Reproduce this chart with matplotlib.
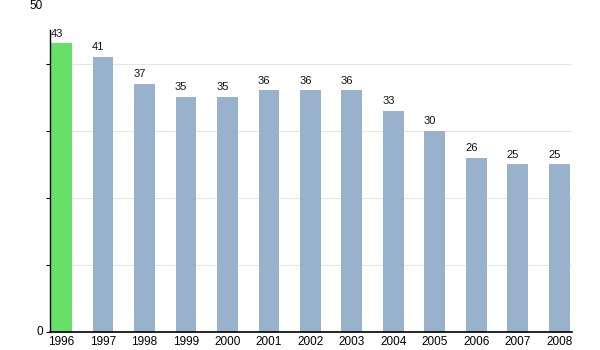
import matplotlib.pyplot as plt
import matplotlib.ticker as tick

plt.rcParams['font.family'] = ['Liberation Sans', 'DejaVu Sans']

YEARS = ['1996', '1997', '1998', '1999', '2000', '2001', '2002',
         '2003', '2004', '2005', '2006', '2007', '2008']
VALUES = [43, 41, 37, 35, 35, 36, 36, 36, 33, 30, 26, 25, 25]
HIGHLIGHT = '1996'

GREEN = '#66E066'
BLUE = '#98B2CC'


def main():
    fig = plt.figure(figsize=(6, 3.5), dpi=100)
    ax = fig.add_axes([50 / 600, 18 / 350, 522 / 600, 302 / 350])

    xs = list(range(len(YEARS)))
    colors = [GREEN if y == HIGHLIGHT else BLUE for y in YEARS]
    width = 0.5
    ax.bar(xs, VALUES, width=width, color=colors, zorder=2)

    for x, v in zip(xs, VALUES):
        ax.text(x - width / 2 - 0.02, v + 0.7, str(v), fontsize=8,
                ha='left', va='bottom', color='#111111')

    ax.set_xlim(-0.28, 12.31)
    ax.set_ylim(0, 45)
    ax.yaxis.set_major_locator(tick.MultipleLocator(10))
    ax.set_yticklabels([])
    ax.text(-0.45, 0, '0', fontsize=8.5, ha='right', va='center')
    # top tick label sits above the axes box
    ax.text(-0.45, 48.6, '50', fontsize=8.5, ha='right', va='center', clip_on=False)

    ax.set_xticks(xs)
    ax.set_xticklabels(YEARS, fontsize=8.5)
    ax.tick_params(axis='x', length=0, pad=3)
    ax.tick_params(axis='y', length=3, width=0.8, direction='out')

    ax.grid(axis='y', color='#e6e6e6', linewidth=0.8, zorder=0)
    ax.set_axisbelow(True)
    for side in ['top', 'right']:
        ax.spines[side].set_visible(False)
    ax.spines['left'].set_linewidth(1.0)
    ax.spines['bottom'].set_linewidth(1.2)

    plt.savefig('out.png', dpi=100)


if __name__ == '__main__':
    main()
